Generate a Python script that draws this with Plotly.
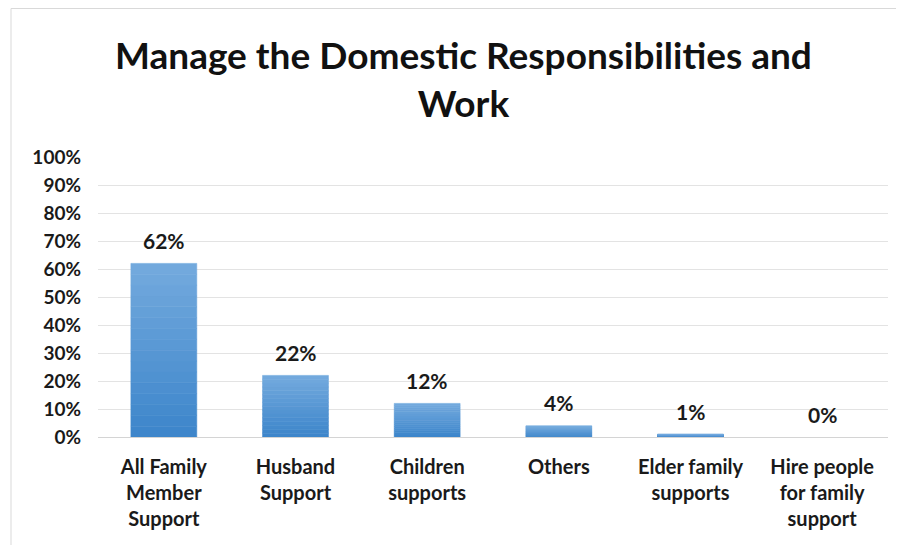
import plotly.graph_objects as go

categories = ["All Family<br>Member<br>Support", "Husband<br>Support", "Children<br>supports",
              "Others", "Elder family<br>supports", "Hire people<br>for family<br>support"]
values = [62, 22, 12, 4, 1, 0]
labels = ["62%", "22%", "12%", "4%", "1%", "0%"]
tick_vals = list(range(0, 101, 10))
tick_text = [f"{v}%" for v in tick_vals]
title_text = "Manage the Domestic Responsibilities and<br>Work"

FONT = "Lato, Open Sans, sans-serif"
DARK = "#1a1a1a"
COLOR_BOTTOM = (0x3E, 0x86, 0xCB)
COLOR_TOP = (0x72, 0xA9, 0xDD)
N_STEPS = 16

# The page body has an 8px margin, so figure coordinates = page coordinates - 8
W, H = 896, 537
ml, mr, mt, mb = 90, 16, 149, 108
pw, ph = W - ml - mr, H - mt - mb

fig = go.Figure()
# vertical gradient fill: each bar is drawn as stacked slices of its own value
for k in range(N_STEPS):
    f = k / (N_STEPS - 1)
    col = "rgb({},{},{})".format(*[round(b + (t - b) * f) for b, t in zip(COLOR_BOTTOM, COLOR_TOP)])
    fig.add_trace(go.Bar(
        x=categories, y=[v / N_STEPS for v in values],
        base=[v * k / N_STEPS for v in values],
        marker=dict(color=col,
                    line=dict(width=[0.6 if v > 0 else 0 for v in values], color=col)),
        width=0.5, hoverinfo="skip" if k else "x", showlegend=False,
    ))

annotations = [
    dict(x=c, y=v, xref="x", yref="y", text=f"<b>{t}</b>", showarrow=False,
         yanchor="middle", xanchor="center", yshift=23,
         font=dict(family=FONT, size=21, color=DARK))
    for c, v, t in zip(categories, values, labels)
]
annotations.append(dict(
    text=f"<b>{title_text}</b>", xref="paper", yref="paper",
    x=(455 - ml) / pw, y=1 + (mt - 70) / ph, xanchor="center", yanchor="middle",
    showarrow=False, font=dict(family=FONT, size=37, color="#111111"),
))

fig.update_layout(
    width=W, height=H,
    margin=dict(l=ml, r=mr, t=mt, b=mb, autoexpand=False),
    paper_bgcolor="white", plot_bgcolor="white",
    font=dict(family=FONT, size=19, color=DARK),
    showlegend=False, barmode="overlay",
    annotations=annotations,
    xaxis=dict(showgrid=False, showline=False, ticks="",
               tickvals=categories, ticktext=[f"<b>{c}</b>" for c in categories],
               tickfont=dict(family=FONT, size=20, color=DARK),
               tickangle=0, ticklabelstandoff=16),
    yaxis=dict(range=[0, 100], tickvals=tick_vals,
               ticktext=[f"<b>{t}</b>" for t in tick_text],
               showgrid=True, gridcolor="#E3E3E3", gridwidth=1,
               zeroline=True, zerolinecolor="#D4D4D4", zerolinewidth=1, showline=False,
               tickfont=dict(family=FONT, size=19, color=DARK),
               ticklabelstandoff=16),
    shapes=[dict(type="rect", xref="paper", yref="paper",
                 x0=(3 - ml) / pw, x1=(W + 20 - ml) / pw,
                 y0=-(mb + 20) / ph, y1=1 + (mt - 0.5) / ph,
                 line=dict(color="#D9D9D9", width=1), fillcolor="rgba(0,0,0,0)",
                 layer="below")],
)

fig.write_html("out.html")
